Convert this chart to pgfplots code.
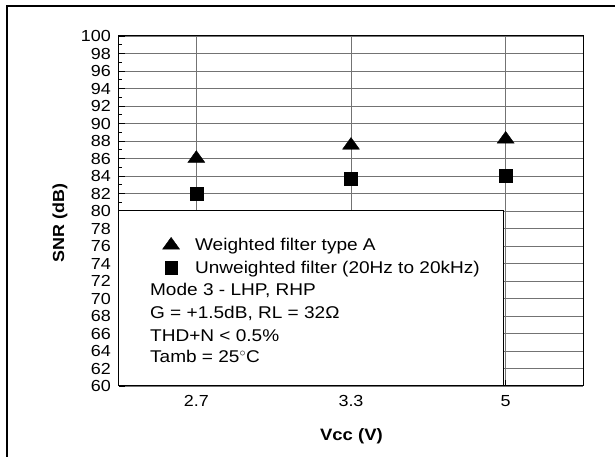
\documentclass[border=0pt]{standalone}
\usepackage{fontspec}
\setmainfont[FakeStretch=1.12]{Liberation Sans}
\usepackage{pgfplots}
\pgfplotsset{compat=1.18}
\begin{document}
\begin{tikzpicture}
\begin{axis}[
  at={(0pt,0pt)}, anchor=south west,
  scale only axis, width=464pt, height=350pt,
  xmin=-0.5, xmax=2.5, ymin=60, ymax=100,
  xtick={0,1,2}, xticklabels={2.7,3.3,5},
  minor xtick={0.5,1.5},
  ytick={60,62,...,100}, minor ytick={61,63,...,99},
  extra y ticks={64,68,...,96}, extra y tick labels={},
  extra y tick style={grid style={black, line width=0.8pt}},
  ytick pos=left, xtick pos=bottom,
  tick align=inside,
  major tick length=6pt, minor tick length=3.5pt,
  tick style={black, line width=0.7pt},
  ymajorgrids, xmajorgrids,
  major grid style={black!55, line width=0.8pt},
  axis line style={black, line width=1pt},
  /pgf/number format/assume math mode=true,
  yticklabel style={font=\fontsize{16}{16}\selectfont, inner sep=0pt, xshift=-8pt},
  xticklabel style={font=\fontsize{16}{16}\selectfont, yshift=-6pt},
  ylabel={\bfseries SNR (dB)},
  xlabel={\bfseries Vcc (V)},
  ylabel style={font=\fontsize{16}{18}\selectfont, at={(axis description cs:-0.127,0.466)}, anchor=center},
  xlabel style={font=\fontsize{16.5}{18}\selectfont, at={(axis description cs:0.501,-0.143)}, anchor=center},
  legend image code/.code={\path[draw=none,fill=none] (0pt,-5pt) rectangle (31pt,5pt); \draw[#1] plot coordinates {(9pt,0pt)};},
  legend style={draw=none, fill=none, at={(axis description cs:0.086,0.434)}, anchor=north west,
    font=\fontsize{17}{18}\selectfont, row sep=5pt,
    nodes={inner xsep=2pt, inner ysep=2pt}},
  legend cell align=left,
]
\draw[fill=white, line width=1pt] (axis cs:-0.5,60) rectangle (axis cs:1.983,80);
\addplot[only marks, mark=triangle*, mark size=9.8pt, mark options={fill=black, draw=black, yscale=0.8}]
  coordinates {(0,86.0) (1,87.5) (2,88.2)};
\addlegendentry{Weighted filter type A}
\addplot[only marks, mark=square*, mark size=6.4pt, mark options={fill=black, draw=black}]
  coordinates {(0,82.0) (1,83.7) (2,84.0)};
\addlegendentry{Unweighted filter (20Hz to 20kHz)}
\node[anchor=base west, inner sep=0pt, font=\fontsize{17}{18}\selectfont] at (axis cs:-0.3,70.29) {Mode 3 - LHP, RHP};
\node[anchor=base west, inner sep=0pt, font=\fontsize{17}{18}\selectfont] at (axis cs:-0.3,67.66) {G = +1.5dB, RL = 32Ω};
\node[anchor=base west, inner sep=0pt, font=\fontsize{17}{18}\selectfont] at (axis cs:-0.3,65.14) {THD+N < 0.5\%};
\node[anchor=base west, inner sep=0pt, font=\fontsize{17}{18}\selectfont] at (axis cs:-0.3,62.63) {Tamb = 25$^{\circ}$C};
\end{axis}
\draw[line width=2pt] (-112pt,-90pt) -- (-112pt,380pt) -- (520pt,380pt);
\pgfresetboundingbox
\useasboundingbox (-119pt,-71pt) rectangle (496pt,386pt);
\end{tikzpicture}
\end{document}
